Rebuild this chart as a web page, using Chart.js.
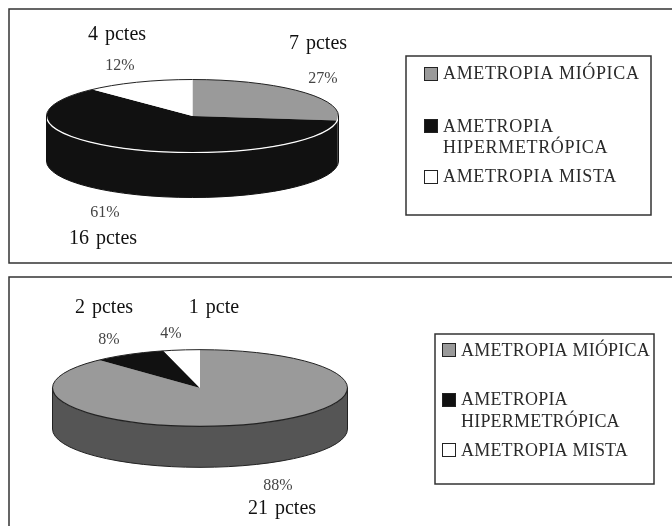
<!DOCTYPE html>
<html>
<head>
<meta charset="utf-8">
<title>Ametropia</title>
<script src="https://cdn.jsdelivr.net/npm/chart.js@4"></script>
<style>
    html, body { margin: 0; padding: 0; background: #fff; overflow: hidden; }
    canvas { position: absolute; left: 0; }
    #chartTop { top: 0; }
    #chartBottom { top: 270px; }
</style>
</head>
<body>
<canvas id="chartTop" width="672" height="270"></canvas>
<canvas id="chartBottom" width="672" height="256"></canvas>
<script>
const categories = ['AMETROPIA MIÓPICA', ['AMETROPIA', 'HIPERMETRÓPICA'], 'AMETROPIA MISTA'];
const topPercent = [27, 61, 12];
const topPatients = ['7 pctes', '16 pctes', '4 pctes'];
const bottomPercent = [88, 8, 4];
const bottomPatients = ['21 pctes', '2 pctes', '1 pcte'];

const sliceColors = ['#9a9a9a', '#111111', '#ffffff'];

const SERIF = '"Liberation Serif", serif';
const LINE = '#333333';

// draws the pie squashed into an ellipse, with a wall underneath for the depth
const tiltedPie = {
    id: 'tiltedPie',
    beforeDatasetsDraw(chart, args, opts) {
        const ctx = chart.ctx;
        const arcs = chart.getDatasetMeta(0).data;
        const { x, y } = arcs[0];
        const r = arcs[0].outerRadius;
        const depth = opts.depth / opts.squash;

        ctx.save();
        ctx.translate(x, y);
        ctx.scale(1, opts.squash);
        ctx.translate(-x, -y);

        arcs.forEach((arc, i) => {
            const from = Math.max(arc.startAngle, 0);
            const to = Math.min(arc.endAngle, Math.PI);
            if (to <= from) return;
            ctx.beginPath();
            ctx.arc(x, y, r, from, to);
            ctx.arc(x, y + depth, r, to, from, true);
            ctx.closePath();
            ctx.fillStyle = opts.walls[i];
            ctx.fill();
        });
    },
    afterDatasetsDraw(chart, args, opts) {
        const ctx = chart.ctx;
        const arc = chart.getDatasetMeta(0).data[0];
        const { x, y } = arc;
        const r = arc.outerRadius;
        ctx.restore();

        // outline is stroked unscaled so it stays one pixel thick
        const m = new DOMMatrix().translate(x, y).scale(1, opts.squash).translate(-x, -y);
        const stroke = (cy, from, to, color, width) => {
            const path = new Path2D();
            path.arc(x, cy, r, from, to);
            const p = new Path2D();
            p.addPath(path, m);
            ctx.strokeStyle = color;
            ctx.lineWidth = width;
            ctx.stroke(p);
        };
        stroke(y, -Math.PI, 0, '#222222', 1);
        stroke(y, 0, Math.PI, opts.rimColor, 1.2);
        stroke(y + opts.depth / opts.squash, 0, Math.PI, opts.edgeColor, 1);

        ctx.strokeStyle = opts.edgeColor;
        ctx.lineWidth = 1;
        ctx.beginPath();
        ctx.moveTo(x - r, y);
        ctx.lineTo(x - r, y + opts.depth);
        ctx.moveTo(x + r, y);
        ctx.lineTo(x + r, y + opts.depth);
        ctx.stroke();
    }
};

// frame, legend box and the text around the pie
const panelDecor = {
    id: 'panelDecor',
    afterDraw(chart, args, opts) {
        const ctx = chart.ctx;
        ctx.save();
        ctx.strokeStyle = LINE;
        ctx.lineWidth = 1.5;
        ctx.beginPath();
        opts.frame.forEach(([x, y], i) => (i ? ctx.lineTo(x, y) : ctx.moveTo(x, y)));
        ctx.stroke();

        const box = opts.legend.box;
        ctx.strokeRect(box[0], box[1], box[2], box[3]);

        ctx.textBaseline = 'alphabetic';
        ctx.textAlign = 'left';
        ctx.font = opts.legend.font;
        ctx.letterSpacing = opts.legend.spacing;
        categories.forEach((label, i) => {
            const row = opts.legend.rows[i];
            ctx.fillStyle = sliceColors[i];
            ctx.fillRect(opts.legend.swatchX, row.swatchY, 13, 13);
            ctx.strokeStyle = '#222222';
            ctx.lineWidth = 1;
            ctx.strokeRect(opts.legend.swatchX, row.swatchY, 13, 13);
            ctx.fillStyle = '#2a2a2a';
            [].concat(label).forEach((line, j) => {
                ctx.fillText(line, opts.legend.textX, row.baselines[j]);
            });
        });

        ctx.textAlign = 'center';
        ctx.letterSpacing = '0px';
        chart.data.datasets[0].data.forEach((value, i) => {
            const spot = opts.labels[i];
            ctx.font = '16px ' + SERIF;
            ctx.fillStyle = '#444444';
            ctx.fillText(value + '%', spot.percent[0], spot.percent[1]);
            ctx.font = '20px ' + SERIF;
            ctx.fillStyle = '#111111';
            ctx.wordSpacing = '2px';
            ctx.fillText(opts.patients[i], spot.count[0], spot.count[1]);
            ctx.wordSpacing = '0px';
        });
        ctx.restore();
    }
};

function pieConfig(values, center, radius, canvasSize, plugin, decor) {
    return {
        type: 'pie',
        data: {
            labels: categories,
            datasets: [{
                data: values,
                backgroundColor: sliceColors,
                borderWidth: 0,
                radius: radius
            }]
        },
        options: {
            responsive: false,
            animation: false,
            layout: {
                padding: {
                    left: 0,
                    top: 0,
                    right: canvasSize[0] - 2 * center[0],
                    bottom: canvasSize[1] - 2 * center[1]
                }
            },
            plugins: {
                legend: { display: false },
                tooltip: { enabled: false },
                tiltedPie: plugin,
                panelDecor: decor
            }
        },
        plugins: [tiltedPie, panelDecor]
    };
}

new Chart(document.querySelector('#chartTop'), pieConfig(
    topPercent, [192.5, 116], 146, [672, 270],
    { squash: 0.25, depth: 45, rimColor: '#ffffff', edgeColor: '#111111', walls: ['#111111', '#111111', '#111111'] },
    {
        frame: [[672, 9], [9, 9], [9, 263], [672, 263]],
        patients: topPatients,
        labels: [
            { percent: [323, 83], count: [318, 49] },
            { percent: [105, 217], count: [103, 244] },
            { percent: [120, 70], count: [117, 40] }
        ],
        legend: {
            box: [406, 56, 245, 159],
            font: '18px ' + SERIF,
            spacing: '0.65px',
            swatchX: 424.5,
            textX: 443,
            rows: [
                { swatchY: 67.5, baselines: [79] },
                { swatchY: 119.5, baselines: [132, 153] },
                { swatchY: 170.5, baselines: [182] }
            ]
        }
    }
));

new Chart(document.querySelector('#chartBottom'), pieConfig(
    bottomPercent, [200, 118], 147.5, [672, 256],
    { squash: 0.26, depth: 41, rimColor: '#222222', edgeColor: '#222222', walls: ['#555555', '#555555', '#555555'] },
    {
        frame: [[672, 7], [9, 7], [9, 256]],
        patients: bottomPatients,
        labels: [
            { percent: [278, 220], count: [282, 244] },
            { percent: [109, 74], count: [104, 43] },
            { percent: [171, 68], count: [214, 43] }
        ],
        legend: {
            box: [435, 64, 219, 150],
            font: '18px ' + SERIF,
            spacing: '0.2px',
            swatchX: 442.5,
            textX: 461,
            rows: [
                { swatchY: 73.5, baselines: [86] },
                { swatchY: 123.5, baselines: [135, 157] },
                { swatchY: 173.5, baselines: [186] }
            ]
        }
    }
));
</script>
</body>
</html>
